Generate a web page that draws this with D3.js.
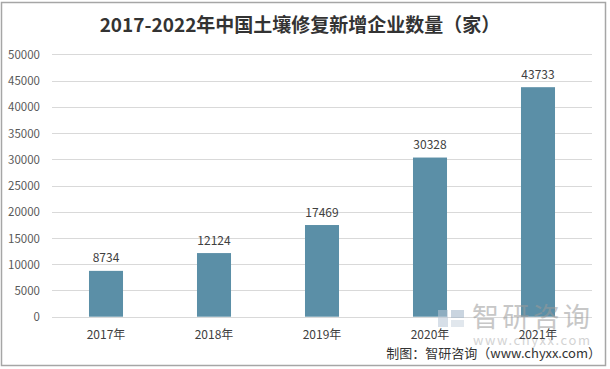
<!DOCTYPE html>
<html><head><meta charset="utf-8">
<script src="https://cdn.jsdelivr.net/npm/d3@7"></script>
<style>
html,body{margin:0;padding:0;background:#fff;}
svg{display:block;}
text{font-family:"Microsoft YaHei","Noto Sans CJK SC","Noto Sans",sans-serif;}
</style></head>
<body>
<svg id="chart" width="610" height="369"></svg>
<script>
const title = "2017-2022年中国土壤修复新增企业数量（家）";
const categories = ["2017年","2018年","2019年","2020年","2021年"];
const values = [8734, 12124, 17469, 30328, 43733];
const yTicks = [0,5000,10000,15000,20000,25000,30000,35000,40000,45000,50000];
const source = "制图：智研咨询（www.chyxx.com）";

(function(){
const svg = d3.select("#chart");
svg.append("rect").attr("x",1.5).attr("y",2.5).attr("width",604).attr("height",363)
  .attr("fill","#fff").attr("stroke","#a6a6a6").attr("stroke-width",1.5);

const pL = 52, pR = 592, pT = 54.3, pB = 316.7;
const x = d3.scaleBand().domain(categories).range([pL,pR]).paddingInner(0.685).paddingOuter(0.3425);
const y = d3.scaleLinear().domain([0,50000]).range([pB,pT]);

// gridlines
svg.append("g").selectAll("line").data(yTicks).join("line")
  .attr("x1",pL).attr("x2",pR)
  .attr("y1",d=>Math.round(y(d))+0.5).attr("y2",d=>Math.round(y(d))+0.5)
  .attr("stroke","#d9d9d9").attr("stroke-width",1);

// y axis labels
const yAxis = d3.axisLeft(y).tickValues(yTicks).tickSize(0).tickPadding(0).tickFormat(d3.format("d"));
const ga = svg.append("g").attr("transform",`translate(40,0)`).call(yAxis);
ga.select(".domain").remove();
ga.selectAll("text").attr("fill","#595959").style("font-size","11.5px")
  .style("font-family","'Microsoft YaHei','Noto Sans CJK SC',sans-serif").attr("dy","0.35em");

// bars
svg.append("g").selectAll("rect").data(values).join("rect")
  .attr("x",(d,i)=>x(categories[i]))
  .attr("width",x.bandwidth())
  .attr("y",d=>y(d))
  .attr("height",d=>y(0)-y(d))
  .attr("fill","#5b8fa7");

// value labels
svg.append("g").selectAll("text").data(values).join("text")
  .attr("x",(d,i)=>x(categories[i])+x.bandwidth()/2)
  .attr("y",d=>y(d)-8.5)
  .attr("text-anchor","middle").attr("fill","#404040").style("font-size","12px")
  .text(d=>d);

// watermark (drawn under axis labels)
const wm = svg.append("g").attr("opacity",0.55);
wm.append("rect").attr("x",438).attr("y",310).attr("width",10).attr("height",17).attr("fill","#b8c6d6");
wm.append("rect").attr("x",451).attr("y",310).attr("width",13).attr("height",8).attr("fill","#9fb3c8");
wm.append("rect").attr("x",451).attr("y",320).attr("width",13).attr("height",7).attr("fill","#c9d4df");
wm.append("text").attr("x",472).attr("y",327).attr("fill","#9a9a9a")
  .attr("textLength",118).attr("lengthAdjust","spacing")
  .style("font-size","27px").text("智研咨询");
wm.append("text").attr("x",473).attr("y",345).attr("fill","#b0b0b0")
  .attr("textLength",117).attr("lengthAdjust","spacing")
  .style("font-size","13px").text("www.chyxx.com");

// x axis labels
const xAxis = d3.axisBottom(x).tickSize(0).tickPadding(0);
const gx = svg.append("g").attr("transform",`translate(0,${pB})`).call(xAxis);
gx.select(".domain").remove();
gx.selectAll("text").attr("fill","#404040").style("font-size","12px")
  .style("font-family","'Microsoft YaHei','Noto Sans CJK SC',sans-serif")
  .attr("dy",0).attr("y",22.5);

// title
svg.append("text").attr("x",300).attr("y",32).attr("text-anchor","middle")
  .attr("fill","#333").style("font-size","19px").style("font-weight","bold").text(title);

// source
svg.append("text").attr("x",601).attr("y",358).attr("text-anchor","end")
  .attr("fill","#333").style("font-size","13px").text(source);
})();
</script>
</body></html>
